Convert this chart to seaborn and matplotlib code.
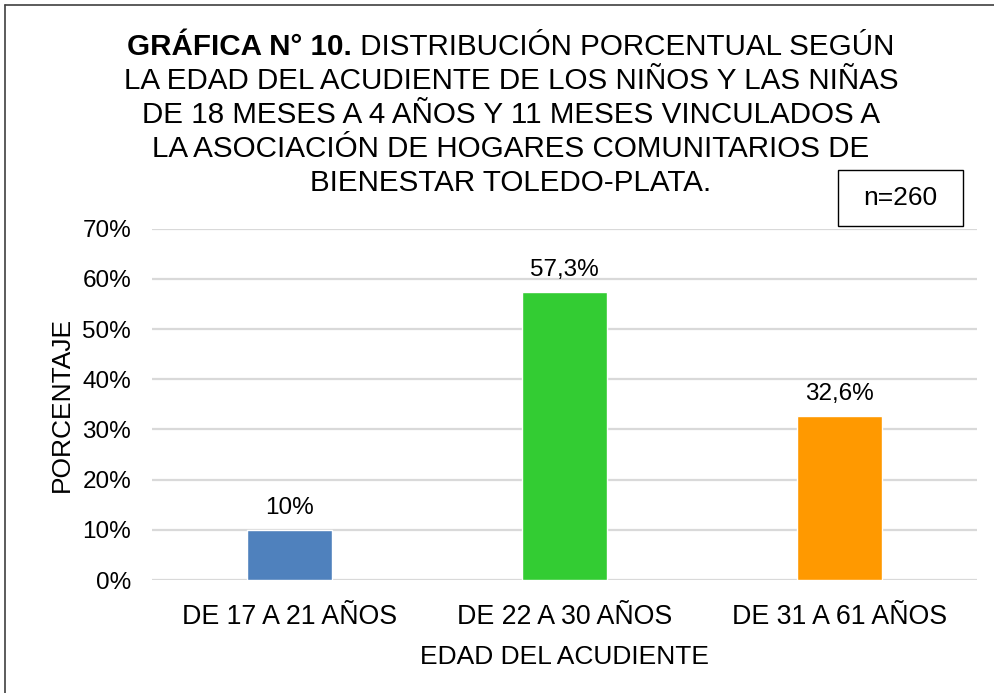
import matplotlib
matplotlib.use("Agg")
import matplotlib.pyplot as plt
import pandas as pd
import seaborn as sns
from matplotlib.lines import Line2D
from matplotlib.patches import Rectangle

# datos de la grafica
categorias = ["DE 17 A 21 AÑOS", "DE 22 A 30 AÑOS", "DE 31 A 61 AÑOS"]
porcentajes = [10, 57.3, 32.6]
etiquetas = ["10%", "57,3%", "32,6%"]
colores = ["#4F81BD", "#33CC33", "#FF9900"]
ticks_y = [0, 10, 20, 30, 40, 50, 60, 70]

titulo_negrita = "GRÁFICA N° 10."
titulo_resto = [
    " DISTRIBUCIÓN PORCENTUAL SEGÚN",
    "LA EDAD DEL ACUDIENTE DE LOS NIÑOS Y LAS NIÑAS",
    "DE 18 MESES A 4 AÑOS Y 11 MESES VINCULADOS A",
    "LA ASOCIACIÓN DE HOGARES COMUNITARIOS DE",
    "BIENESTAR TOLEDO-PLATA.",
]

sns.set_style("white")
plt.rcParams["font.family"] = ["Liberation Sans", "DejaVu Sans"]
plt.rcParams["text.color"] = "black"
plt.rcParams["axes.labelcolor"] = "black"
plt.rcParams["xtick.color"] = "black"
plt.rcParams["ytick.color"] = "black"

df = pd.DataFrame({"edad": categorias, "pct": porcentajes})

fig = plt.figure(figsize=(9.94, 6.93), dpi=100)
ax = fig.add_axes([0.153, 0.163, 0.830, 0.507])

sns.barplot(data=df, x="edad", y="pct", hue="edad", palette=colores,
            width=0.31, legend=False, ax=ax, saturation=1)

ax.set_ylim(0, 70)
ax.set_yticks(ticks_y)
ax.set_yticklabels([f"{t}%" for t in ticks_y], fontsize=17.5)
ax.tick_params(axis="x", labelsize=19.3, length=0, pad=17)
ax.tick_params(axis="y", length=0, pad=15)
ax.yaxis.grid(True, color="#D9D9D9", linewidth=1.6)
ax.set_axisbelow(True)
for s in ax.spines.values():
    s.set_visible(False)

ax.set_xlabel("EDAD DEL ACUDIENTE", fontsize=19, labelpad=11)
ax.set_ylabel("PORCENTAJE", fontsize=19, labelpad=6)

for cont, lab in zip(ax.containers, etiquetas):
    ax.bar_label(cont, labels=[lab], fontsize=17.5, padding=8)

# titulo (primera linea mezcla negrita y normal)
fs = 21.3
cx = 511 / 994
renderer = fig.canvas.get_renderer()
t1 = fig.text(0, 0, titulo_negrita, fontsize=fs, fontweight="bold")
t2 = fig.text(0, 0, titulo_resto[0], fontsize=fs)
w1 = t1.get_window_extent(renderer).width / fig.bbox.width
w2 = t2.get_window_extent(renderer).width / fig.bbox.width
x0 = cx - (w1 + w2) / 2
y_lineas = [47, 81, 115, 149, 183]
t1.set_position((x0, 1 - y_lineas[0] / 693))
t1.set_va("center")
t2.set_position((x0 + w1, 1 - y_lineas[0] / 693))
t2.set_va("center")
for linea, yy in zip(titulo_resto[1:], y_lineas[1:]):
    fig.text(cx, 1 - yy / 693, linea, fontsize=fs, ha="center", va="center")

# cuadro n=260
fig.add_artist(Rectangle((838 / 994, 1 - 226 / 693), 125 / 994, 56 / 693,
                         transform=fig.transFigure, fill=False,
                         edgecolor="black", linewidth=1))
fig.text(900 / 994, 1 - 198 / 693, "n=260", fontsize=19, ha="center", va="center")

# borde del grafico
fig.add_artist(Line2D([5 / 994, 5 / 994], [0, 1 - 5 / 693], color="#404040",
                      linewidth=1.2, transform=fig.transFigure))
fig.add_artist(Line2D([5 / 994, 1], [1 - 5 / 693, 1 - 5 / 693], color="#404040",
                      linewidth=1.2, transform=fig.transFigure))

fig.savefig("out.png", dpi=100)
